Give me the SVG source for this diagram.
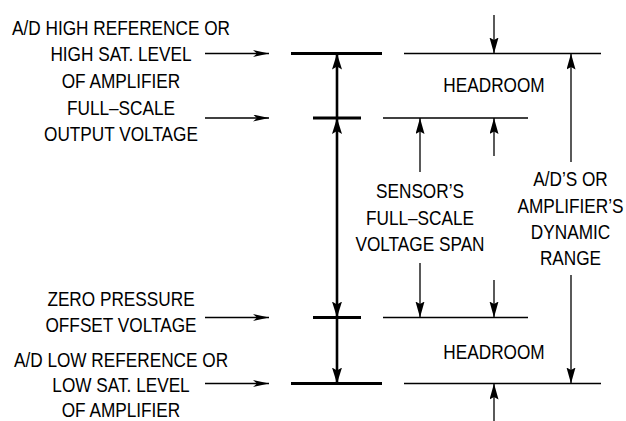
<svg xmlns="http://www.w3.org/2000/svg" width="626" height="421" viewBox="0 0 626 421">
<style>
text{font-family:"Liberation Sans",Arial,sans-serif;font-size:21px;fill:#000;text-anchor:middle}
.thin{stroke:#000;stroke-width:1.3;fill:none}
.thick{stroke:#000;stroke-width:3;fill:none}
.vthick{stroke:#000;stroke-width:2.6;fill:none}
.ptr{stroke:#000;stroke-width:1.3;fill:none;marker-end:url(#lh)}
.dim{stroke:#000;stroke-width:1.3;fill:none;marker-end:url(#th)}
</style>
<defs>
<marker id="lh" markerUnits="userSpaceOnUse" markerWidth="17" markerHeight="8" refX="16" refY="3.5" orient="auto"><path d="M0,0 L16,3.5 L0,7 L4,3.5 Z" fill="#000"/></marker>
<marker id="th" markerUnits="userSpaceOnUse" markerWidth="17" markerHeight="10" refX="16" refY="4.5" orient="auto"><path d="M0,0 L16,4.5 L0,9 L2.5,4.5 Z" fill="#000"/></marker>
<marker id="kh" markerUnits="userSpaceOnUse" markerWidth="17" markerHeight="11" refX="16" refY="5" orient="auto-start-reverse"><path d="M0,0 L16,5 L0,10 L3,5 Z" fill="#000"/></marker>
</defs>
<g id="connectors">
<line class="ptr" x1="205" y1="53.5" x2="269" y2="53.5"/>
<line class="ptr" x1="205" y1="118" x2="269" y2="118"/>
<line class="ptr" x1="205" y1="317.5" x2="269" y2="317.5"/>
<line class="ptr" x1="205" y1="383.5" x2="269" y2="383.5"/>
<line class="thick" x1="291" y1="53.5" x2="382" y2="53.5"/>
<line class="thick" x1="313" y1="118" x2="361" y2="118"/>
<line class="thick" x1="313" y1="317.5" x2="361" y2="317.5"/>
<line class="thick" x1="291" y1="383.5" x2="382" y2="383.5"/>
<line class="thin" x1="404" y1="53.5" x2="601" y2="53.5"/>
<line class="thin" x1="383" y1="118" x2="528" y2="118"/>
<line class="thin" x1="383" y1="317.5" x2="528" y2="317.5"/>
<line class="thin" x1="404" y1="383.5" x2="601" y2="383.5"/>
<line class="vthick" x1="337" y1="118" x2="337" y2="53.5" marker-end="url(#kh)"/>
<line class="vthick" x1="337" y1="118" x2="337" y2="317.5" marker-start="url(#kh)" marker-end="url(#kh)"/>
<line class="vthick" x1="337" y1="317.5" x2="337" y2="383.5" marker-end="url(#kh)"/>
<line class="dim" x1="494" y1="15" x2="494" y2="53.5"/>
<line class="dim" x1="420" y1="172" x2="420" y2="118"/>
<line class="dim" x1="420" y1="263" x2="420" y2="317.5"/>
<line class="dim" x1="494" y1="156" x2="494" y2="118"/>
<line class="dim" x1="494" y1="280" x2="494" y2="317.5"/>
<line class="dim" x1="571" y1="162" x2="571" y2="53.5"/>
<line class="dim" x1="571" y1="275" x2="571" y2="383.5"/>
<line class="dim" x1="494" y1="421" x2="494" y2="383.5"/>
</g>
<g id="label-high-ref" transform="translate(121,0) scale(0.82,1)">
<text x="0" y="35">A/D HIGH REFERENCE OR</text>
<text x="0" y="61.5">HIGH SAT. LEVEL</text>
<text x="0" y="88">OF AMPLIFIER</text>
</g>
<g id="label-full-scale" transform="translate(121,0) scale(0.82,1)">
<text x="0" y="115">FULL–SCALE</text>
<text x="0" y="141.5">OUTPUT VOLTAGE</text>
</g>
<g id="label-zero" transform="translate(121,0) scale(0.82,1)">
<text x="0" y="306.5">ZERO PRESSURE</text>
<text x="0" y="332.5">OFFSET VOLTAGE</text>
</g>
<g id="label-low-ref" transform="translate(121,0) scale(0.82,1)">
<text x="0" y="367">A/D LOW REFERENCE OR</text>
<text x="0" y="392.5">LOW SAT. LEVEL</text>
<text x="0" y="417.5">OF AMPLIFIER</text>
</g>
<g id="headroom-top" transform="translate(494,0) scale(0.82,1)"><text x="0" y="92.5">HEADROOM</text></g>
<g id="headroom-bottom" transform="translate(494,0) scale(0.82,1)"><text x="0" y="359">HEADROOM</text></g>
<g id="sensor-span" transform="translate(420,0) scale(0.82,1)">
<text x="0" y="198.5">SENSOR’S</text>
<text x="0" y="225">FULL–SCALE</text>
<text x="0" y="251.5">VOLTAGE SPAN</text>
</g>
<g id="dynamic-range" transform="translate(570.5,0) scale(0.82,1)">
<text x="0" y="186.5">A/D’S OR</text>
<text x="0" y="213">AMPLIFIER’S</text>
<text x="0" y="239">DYNAMIC</text>
<text x="0" y="265">RANGE</text>
</g>
</svg>
